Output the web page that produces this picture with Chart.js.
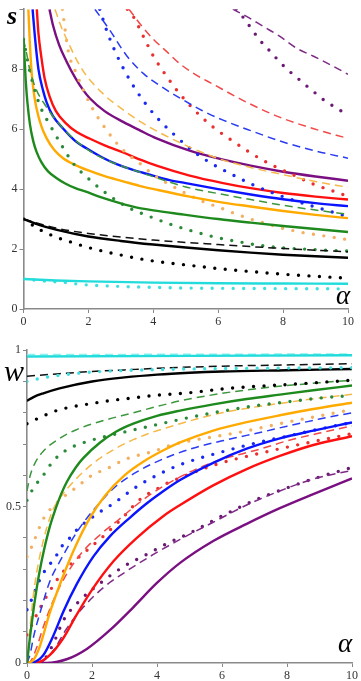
<!DOCTYPE html>
<html>
<head>
<meta charset="utf-8">
<script src="https://cdn.jsdelivr.net/npm/chart.js@4.4.1/dist/chart.umd.min.js"></script>
<style>
html,body{margin:0;padding:0;background:#fff;}
#wrap{position:relative;width:361px;height:681px;overflow:hidden;}
canvas{position:absolute;left:0;}
.lab{position:absolute;font-family:"Liberation Serif","DejaVu Serif",serif;font-style:italic;color:#000;line-height:1;}
</style>
</head>
<body>
<div id="wrap">
<canvas id="top" width="361" height="341" style="top:0"></canvas>
<canvas id="bot" width="361" height="340" style="top:341px"></canvas>
<div class="lab" style="left:7px;top:3px;font-size:26px;font-weight:bold;">s</div>
<div class="lab" style="left:336px;top:282px;font-size:27px;">α</div>
<div class="lab" style="left:4px;top:356px;font-size:30px;">w</div>
<div class="lab" style="left:338px;top:630px;font-size:27px;">α</div>
</div>
<script>
// ---------- tick labels ----------
const xTickLabels = [0, 2, 4, 6, 8, 10];
const sTickLabels = [0, 2, 4, 6, 8];
const wTickLabels = [0, 0.5, 1];

// ---------- top chart: s(alpha) ----------
const s_cyan_solid  = [[0,1.0],[1,0.95],[2,0.92],[4,0.88],[6,0.86],[8,0.85],[10,0.84]];
const s_cyan_dot    = [[0,1.0],[0.4,0.96],[0.8,0.92],[1.2,0.89],[1.6,0.84],[2,0.8],[2.6,0.77],[3.3,0.74],[4,0.72],[5,0.7],[6,0.69],[8,0.68],[10,0.67]];
const s_black_solid = [[0,3.0],[0.5,2.8],[1,2.65],[2,2.42],[3,2.27],[4,2.15],[5,2.05],[6,1.96],[7,1.88],[8,1.81],[9,1.76],[10,1.71]];
const s_black_dash  = [[0,3.0],[1,2.7],[2,2.52],[3,2.4],[4,2.3],[5,2.22],[6,2.15],[7,2.08],[8,2.02],[9,1.96],[10,1.91]];
const s_black_dot   = [[0,3.0],[0.5,2.65],[1,2.4],[1.5,2.22],[2,2.05],[3,1.8],[4,1.6],[5,1.47],[6,1.35],[7,1.25],[8,1.16],[9,1.09],[10,1.03]];
const s_green_solid = [[0,9.0],[0.03,8.4],[0.07,7.6],[0.12,6.9],[0.2,6.15],[0.3,5.6],[0.4,5.25],[0.55,4.9],[0.75,4.6],[1,4.38],[1.3,4.18],[1.6,4.03],[1.9,3.92],[2.4,3.72],[3,3.52],[3.5,3.38],[4,3.29],[4.8,3.17],[6,3.0],[7,2.88],[8,2.77],[9,2.67],[10,2.57]];
const s_green_dash  = [[0,9.0],[0.1,8.5],[0.2,7.95],[0.4,7.3],[0.7,6.75],[1,6.3],[1.5,5.72],[2,5.3],[2.5,5.0],[3,4.78],[3.9,4.45],[5,4.07],[6,3.85],[7,3.65],[8,3.46],[9,3.3],[10,3.16]];
const s_green_dot   = [[0,9.0],[0.2,7.9],[0.5,6.8],[0.82,6.13],[1.17,5.47],[1.53,4.86],[2.05,4.3],[2.6,3.82],[3.2,3.4],[3.9,3.08],[4.6,2.8],[5.2,2.6],[5.9,2.4],[6.6,2.25],[7.3,2.12],[8,2.04],[9,1.98],[10,1.93]];
const s_orange_solid= [[0.15,10],[0.19,9.0],[0.25,7.9],[0.32,7.2],[0.4,6.7],[0.55,6.1],[0.71,5.7],[0.95,5.3],[1.22,5.03],[1.6,4.8],[2,4.62],[2.5,4.43],[3.07,4.26],[3.6,4.1],[4.1,3.98],[5.12,3.75],[6.15,3.55],[7,3.42],[8,3.27],[9,3.14],[10,3.03]];
const s_orange_dash = [[0.97,10],[1.15,9.45],[1.33,9.0],[1.8,8.0],[2.46,7.17],[3,6.7],[3.6,6.25],[4.2,5.88],[4.82,5.55],[5.4,5.27],[6,5.02],[7,4.72],[8,4.48],[9,4.25],[10,4.06]];
const s_orange_dot  = [[1.2,10],[1.38,8.6],[1.64,7.83],[2.05,6.84],[2.6,5.91],[3.07,5.3],[3.58,4.86],[4,4.48],[4.5,4.15],[5,3.86],[5.5,3.6],[6,3.4],[6.5,3.19],[7,3.0],[7.5,2.84],[8,2.69],[8.5,2.57],[9,2.48],[9.5,2.4],[10,2.31]];
const s_blue_solid  = [[0.28,10],[0.35,9.1],[0.46,8.0],[0.6,7.3],[0.71,6.9],[0.9,6.45],[1.22,6.02],[1.6,5.6],[1.94,5.36],[2.4,5.07],[2.87,4.83],[3.4,4.63],[3.89,4.48],[4.5,4.3],[5,4.2],[6,4.0],[7,3.82],[8,3.66],[9,3.53],[10,3.43]];
const s_blue_dash   = [[2.2,10],[2.66,9.3],[3.18,8.45],[3.7,7.85],[4.2,7.45],[4.8,7.05],[5.5,6.62],[6.15,6.3],[7,5.95],[8,5.57],[9,5.27],[10,5.03]];
const s_blue_dot    = [[2.35,10],[2.56,9.3],[2.82,8.6],[3.12,7.94],[3.48,7.28],[4.05,6.46],[4.61,5.85],[5.12,5.36],[5.69,4.92],[6.35,4.53],[7.02,4.17],[7.69,3.87],[8.4,3.6],[9.07,3.38],[10,3.08]];
const s_red_solid   = [[0.41,10],[0.46,9.2],[0.55,8.4],[0.65,7.7],[0.8,7.1],[1.0,6.6],[1.3,6.2],[1.64,5.9],[2.05,5.68],[2.5,5.46],[3.07,5.22],[3.6,4.98],[4.1,4.78],[5.12,4.45],[6.15,4.2],[7,4.03],[8,3.87],[9,3.75],[10,3.65]];
const s_red_dash    = [[3.25,10],[3.6,9.5],[4.0,9.0],[4.4,8.6],[4.82,8.18],[5.3,7.82],[5.84,7.5],[6.87,6.9],[7.89,6.4],[8.92,6.02],[10,5.69]];
const s_red_dot     = [[3.2,10],[3.38,9.76],[3.69,9.1],[4.0,8.44],[4.4,7.78],[4.82,7.17],[5.28,6.62],[5.84,6.07],[6.41,5.63],[7.02,5.19],[7.64,4.81],[8.3,4.48],[8.92,4.17],[9.5,3.95],[10,3.76]];
const s_purple_solid= [[0.8,10],[0.9,9.5],[1.1,8.8],[1.33,8.25],[1.6,7.7],[1.84,7.3],[2.05,7.02],[2.5,6.6],[3.07,6.24],[3.6,5.95],[4.1,5.69],[5.12,5.28],[6.15,4.98],[7,4.78],[8,4.58],[9,4.42],[10,4.28]];
const s_purple_dash = [[6.45,10],[6.87,9.76],[7.38,9.43],[7.89,9.1],[8.4,8.71],[8.92,8.44],[9.43,8.16],[10,7.83]];
const s_purple_dot  = [[6.55,10],[6.76,9.74],[6.97,9.43],[7.17,9.13],[7.4,8.82],[7.64,8.55],[7.87,8.27],[8.12,8.0],[8.38,7.76],[8.66,7.5],[8.94,7.25],[9.22,7.0],[9.51,6.79],[9.81,6.59],[10,6.45]];

// ---------- bottom chart: w(alpha) ----------
const w_cyan_solid  = [[0,0.98],[5,0.982],[10,0.984]];
const w_cyan_dash   = [[0,0.986],[10,0.988]];
const w_cyan_dot    = [[0,0.9],[0.5,0.912],[1,0.92],[2,0.93],[3,0.935],[5,0.94],[7,0.942],[10,0.944]];
const w_black_solid = [[0,0.838],[0.2,0.85],[0.5,0.862],[1,0.878],[2,0.9],[3,0.913],[4,0.922],[5,0.928],[6,0.932],[8,0.936],[10,0.94]];
const w_black_dash  = [[0,0.917],[1,0.925],[2,0.932],[3,0.937],[4,0.942],[5,0.946],[6,0.949],[8,0.953],[10,0.957]];
const w_black_dot   = [[0,0.765],[0.4,0.785],[0.8,0.803],[1.2,0.815],[1.9,0.828],[2.5,0.838],[3.3,0.848],[4,0.856],[5,0.864],[6,0.876],[7,0.884],[8,0.89],[9,0.897],[10,0.904]];
const w_green_solid = [[0,0],[0.1,0.09],[0.2,0.17],[0.3,0.24],[0.4,0.3],[0.52,0.36],[0.7,0.435],[0.87,0.49],[1.05,0.54],[1.22,0.578],[1.5,0.625],[1.73,0.655],[2.25,0.705],[2.75,0.74],[3.27,0.765],[4,0.79],[4.71,0.807],[5.73,0.827],[6.76,0.844],[7.78,0.858],[8.81,0.872],[10,0.887]];
const w_green_dash  = [[0,0.55],[0.1,0.6],[0.25,0.64],[0.5,0.677],[1,0.718],[1.5,0.745],[2.25,0.772],[3.27,0.8],[4,0.82],[4.71,0.838],[6,0.862],[7,0.876],[8,0.887],[9,0.896],[10,0.904]];
const w_green_dot   = [[0,0.52],[0.2,0.56],[0.5,0.6],[0.8,0.645],[1.2,0.68],[1.7,0.703],[2.25,0.72],[3.27,0.745],[4.25,0.768],[5,0.785],[6,0.805],[7,0.822],[8,0.835],[9,0.847],[10,0.855]];
const w_orange_solid= [[0,0],[0.2,0.01],[0.4,0.055],[0.7,0.16],[1.1,0.275],[1.5,0.375],[1.94,0.465],[2.4,0.535],[3,0.6],[3.6,0.645],[4.2,0.68],[4.71,0.705],[5.73,0.743],[6.76,0.77],[7.78,0.792],[8.81,0.812],[10,0.832]];
const w_orange_dash = [[0,0],[0.05,0.06],[0.1,0.12],[0.2,0.22],[0.3,0.29],[0.4,0.345],[0.6,0.43],[0.8,0.49],[1.0,0.525],[1.22,0.555],[1.73,0.611],[2.25,0.655],[3.27,0.714],[4.71,0.765],[6,0.8],[7,0.818],[8,0.833],[9,0.847],[10,0.859]];
const w_orange_dot  = [[0,0.34],[0.15,0.373],[0.5,0.46],[1,0.52],[1.5,0.56],[2,0.6],[2.45,0.621],[3.12,0.655],[3.84,0.675],[4.55,0.7],[5.84,0.725],[6.66,0.74],[8,0.77],[9,0.79],[10,0.81]];
const w_blue_solid  = [[0,0],[0.2,0.002],[0.5,0.025],[0.8,0.085],[1.12,0.165],[1.53,0.252],[2.04,0.34],[2.55,0.405],[3.17,0.465],[3.68,0.51],[4.2,0.55],[4.71,0.585],[5.73,0.64],[6.76,0.685],[7.78,0.718],[8.81,0.743],[10,0.769]];
const w_blue_dash   = [[0,0],[0.1,0.03],[0.2,0.083],[0.45,0.178],[0.71,0.263],[1.07,0.336],[1.42,0.4],[1.84,0.463],[2.14,0.5],[2.66,0.558],[3.38,0.611],[4.2,0.653],[5.22,0.69],[6.25,0.716],[7.17,0.737],[8,0.757],[9,0.78],[10,0.8]];
const w_blue_dot    = [[0,0.17],[0.15,0.205],[0.3,0.244],[0.45,0.278],[0.66,0.31],[0.86,0.336],[1.07,0.373],[1.32,0.4],[1.58,0.431],[1.84,0.453],[2.2,0.48],[2.66,0.51],[3.32,0.56],[3.99,0.6],[4.71,0.634],[5.42,0.658],[6.14,0.679],[6.91,0.7],[8,0.725],[9,0.748],[10,0.769]];
const w_red_solid   = [[0,0],[0.3,0.001],[0.7,0.025],[1.12,0.08],[1.53,0.155],[2.04,0.24],[2.66,0.325],[3.38,0.4],[4.2,0.47],[4.71,0.505],[5.73,0.568],[6.76,0.62],[7.78,0.662],[8.81,0.697],[10,0.725]];
const w_red_dash    = [[0,0],[0.1,0.004],[0.3,0.05],[0.5,0.115],[0.81,0.2],[1.22,0.284],[1.73,0.358],[2.25,0.41],[2.76,0.453],[3.68,0.53],[4.71,0.595],[5.73,0.642],[7.17,0.684],[8,0.71],[9,0.735],[10,0.758]];
const w_red_dot     = [[0,0.09],[0.35,0.165],[0.7,0.23],[1.1,0.29],[1.5,0.33],[1.9,0.365],[2.4,0.41],[2.9,0.46],[3.5,0.525],[3.94,0.553],[4.3,0.574],[4.66,0.59],[5.02,0.605],[5.38,0.619],[5.73,0.632],[6.45,0.653],[6.86,0.663],[8,0.69],[9,0.712],[10,0.733]];
const w_purple_solid= [[0,0],[0.6,0.0],[1.22,0.012],[1.84,0.045],[2.55,0.105],[3.27,0.178],[3.99,0.255],[4.71,0.32],[5.73,0.39],[6.76,0.445],[7.78,0.495],[8.81,0.54],[10,0.59]];
const w_purple_dash = [[0,0],[0.4,0.002],[0.81,0.04],[1.22,0.11],[1.73,0.178],[2.35,0.241],[3.07,0.294],[3.89,0.347],[4.71,0.395],[5.73,0.45],[6.76,0.505],[7.78,0.55],[8.81,0.588],[10,0.616]];
const w_purple_dot  = [[0,0],[0.5,0.01],[0.81,0.062],[1.12,0.136],[1.63,0.2],[2.35,0.263],[3.0,0.31],[3.68,0.347],[4.35,0.384],[5,0.415],[6,0.47],[7,0.52],[8,0.56],[9,0.595],[10,0.625]];

// ---------- styles ----------
const COL = {
  cyan:   {solid:'#22dcdc', dash:'#8af0f0', dot:'#40dede'},
  black:  {solid:'#000000', dash:'#111111', dot:'#000000'},
  green:  {solid:'#1e8a1e', dash:'#3c963c', dot:'#2a8a3a'},
  orange: {solid:'#ffaa00', dash:'#f6b847', dot:'#f3b062'},
  blue:   {solid:'#0a14ff', dash:'#2a3cf2', dot:'#1a2af0'},
  red:    {solid:'#ff1010', dash:'#f24848', dot:'#e83030'},
  purple: {solid:'#7a0f82', dash:'#7e2a86', dot:'#6a1a72'}
};
function ds(data, color, style){
  const d = {data, borderColor: COL[color][style], pointRadius:0, fill:false,
             cubicInterpolationMode:'monotone', borderJoinStyle:'round'};
  if(style==='solid'){ d.borderWidth = 2.4; }
  if(style==='dash'){ d.borderWidth = 1.5; d.borderDash = [8,5]; }
  if(style==='dot'){ d.borderWidth = 3.4; d.borderDash = [0,10.5]; d.borderCapStyle = 'round'; }
  return d;
}
function axis(min, max, step, labels, fixedSize, horizontal){
  return {
    type:'linear', min, max,
    afterFit: (s)=>{ if(horizontal){ s.height = fixedSize; } else { s.width = fixedSize; } },
    ticks:{ stepSize: step, autoSkip:false, maxRotation:0, padding:2, color:'#333',
      font:{family:'"Liberation Serif","DejaVu Serif",serif', size:12},
      callback:(v)=> labels.some(l=>Math.abs(l-v)<1e-6) ? String(labels.find(l=>Math.abs(l-v)<1e-6)) : '' },
    grid:{ display:true, drawOnChartArea:false, drawTicks:true, tickLength:4, tickColor:'#888', color:'#888' },
    border:{ display:true, color:'#8a8a8a', width:1.6 }
  };
}
const common = (pad)=>({
  responsive:false, animation:false, devicePixelRatio:1,
  layout:{ autoPadding:false, padding:pad },
  plugins:{ legend:{display:false}, tooltip:{enabled:false} },
  events:[]
});

const topSets = [
  ds(s_cyan_solid,'cyan','solid'), ds(s_cyan_dot,'cyan','dot'),
  ds(s_black_solid,'black','solid'), ds(s_black_dash,'black','dash'), ds(s_black_dot,'black','dot'),
  ds(s_green_solid,'green','solid'), ds(s_green_dash,'green','dash'), ds(s_green_dot,'green','dot'),
  ds(s_orange_solid,'orange','solid'), ds(s_orange_dash,'orange','dash'), ds(s_orange_dot,'orange','dot'),
  ds(s_blue_solid,'blue','solid'), ds(s_blue_dash,'blue','dash'), ds(s_blue_dot,'blue','dot'),
  ds(s_red_solid,'red','solid'), ds(s_red_dash,'red','dash'), ds(s_red_dot,'red','dot'),
  ds(s_purple_solid,'purple','solid'), ds(s_purple_dash,'purple','dash'), ds(s_purple_dot,'purple','dot')
];
new Chart(document.getElementById('top'), {
  type:'line',
  data:{ datasets: topSets },
  options: Object.assign(common({left:0, right:13, top:6, bottom:0}), {
    scales:{
      x: axis(0, 10, 2, xTickLabels, 32, true),
      y: axis(0, 10, 2, sTickLabels, 23.5, false)
    }
  })
});

const botSets = [
  ds(w_cyan_solid,'cyan','solid'), ds(w_cyan_dash,'cyan','dash'), ds(w_cyan_dot,'cyan','dot'),
  ds(w_black_solid,'black','solid'), ds(w_black_dash,'black','dash'), ds(w_black_dot,'black','dot'),
  ds(w_green_solid,'green','solid'), ds(w_green_dash,'green','dash'), ds(w_green_dot,'green','dot'),
  ds(w_orange_solid,'orange','solid'), ds(w_orange_dash,'orange','dash'), ds(w_orange_dot,'orange','dot'),
  ds(w_blue_solid,'blue','solid'), ds(w_blue_dash,'blue','dash'), ds(w_blue_dot,'blue','dot'),
  ds(w_red_solid,'red','solid'), ds(w_red_dash,'red','dash'), ds(w_red_dot,'red','dot'),
  ds(w_purple_solid,'purple','solid'), ds(w_purple_dash,'purple','dash'), ds(w_purple_dot,'purple','dot')
];
new Chart(document.getElementById('bot'), {
  type:'line',
  data:{ datasets: botSets },
  options: Object.assign(common({left:0, right:9, top:6, bottom:0}), {
    scales:{
      x: axis(0, 10, 2, xTickLabels, 18, true),
      y: axis(0, 1, 0.1, wTickLabels, 27, false)
    }
  })
});
</script>
</body>
</html>
